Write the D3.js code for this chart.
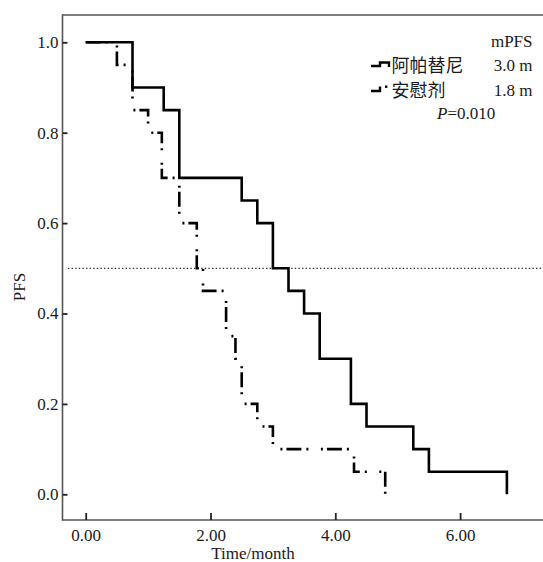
<!DOCTYPE html>
<html><head><meta charset="utf-8">
<script src="https://cdn.jsdelivr.net/npm/d3@7"></script>
<style>
html,body{margin:0;padding:0;background:#fff;}
svg{display:block;}
</style></head>
<body>
<svg id="chart" width="543" height="562"></svg>
<script>
// ---- data ----
const timesApatinib = [0, 0.75, 1.25, 1.5, 2.5, 2.75, 3.0, 3.25, 3.5, 3.75, 4.25, 4.5, 5.25, 5.5, 6.75];
const pfsApatinib   = [1.0, 0.9, 0.85, 0.7, 0.65, 0.6, 0.5, 0.45, 0.4, 0.3, 0.2, 0.15, 0.1, 0.05, 0.0];
const timesPlacebo  = [0, 0.5, 0.75, 1.0, 1.22, 1.5, 1.78, 1.88, 2.25, 2.4, 2.5, 2.75, 3.0, 4.3, 4.8];
const pfsPlacebo    = [1.0, 0.95, 0.85, 0.8, 0.7, 0.6, 0.5, 0.45, 0.35, 0.3, 0.2, 0.15, 0.1, 0.05, 0.0];
const xTicks = [0, 2, 4, 6];
const yTicks = [0, 0.2, 0.4, 0.6, 0.8, 1.0];
const seriesNames = ["阿帕替尼", "安慰剂"];
const medianLabels = ["3.0 m", "1.8 m"];
const pValueText = "=0.010";
const refLevel = 0.5;

// ---- layout ----
const L = 62.5, T = 15, R = 543, B = 520;
const serif = "'Liberation Serif','DejaVu Serif',serif";
const cjk = "'Noto Sans CJK SC','Noto Sans',sans-serif";

const svg = d3.select("#chart");
const x = d3.scaleLinear().domain([0, 6]).range([85.7, 460.1]);
const y = d3.scaleLinear().domain([0, 1]).range([494.3, 42.3]);

// frame
const frame = svg.append("g").attr("stroke", "#555").attr("stroke-width", 1.6).attr("fill", "none");
frame.append("line").attr("x1", L).attr("x2", L).attr("y1", T - 0.8).attr("y2", B + 0.8);
frame.append("line").attr("x1", L).attr("x2", R).attr("y1", T).attr("y2", T);
frame.append("line").attr("x1", L).attr("x2", R).attr("y1", B).attr("y2", B);

// axes
const xAxis = svg.append("g").attr("transform", `translate(0,${B})`)
  .call(d3.axisBottom(x).tickValues(xTicks).tickFormat(d3.format(".2f")).tickSizeInner(-7).tickSizeOuter(0).tickPadding(9));
const yAxis = svg.append("g").attr("transform", `translate(${L},0)`)
  .call(d3.axisLeft(y).tickValues(yTicks).tickFormat(d3.format(".1f")).tickSizeInner(-5).tickSizeOuter(0).tickPadding(4));
[xAxis, yAxis].forEach(a => {
  a.select(".domain").remove();
  a.selectAll(".tick line").attr("stroke", "#222").attr("stroke-width", 1.8);
  a.selectAll(".tick text").attr("fill", "#1a1a1a").style("font-family", serif).style("font-size", "17px");
});
yAxis.selectAll(".tick text").attr("x", -4);

// axis titles
svg.append("text").attr("x", 253).attr("y", 559).attr("text-anchor", "middle")
  .style("font-family", serif).style("font-size", "17px").attr("fill", "#1a1a1a").text("Time/month");
svg.append("text").attr("transform", "translate(25,287) rotate(-90)").attr("text-anchor", "middle")
  .style("font-family", serif).style("font-size", "17px").attr("fill", "#1a1a1a").text("PFS");

// reference line at 0.5
svg.append("line").attr("x1", 68).attr("x2", R).attr("y1", y(refLevel)).attr("y2", y(refLevel))
  .attr("stroke", "#333").attr("stroke-width", 1.2).attr("stroke-dasharray", "1.4,2.2");

// curves
const line = d3.line().x(d => x(d[0])).y(d => y(d[1])).curve(d3.curveStepAfter);
const dataA = timesApatinib.map((t, i) => [t, pfsApatinib[i]]);
const dataB = timesPlacebo.map((t, i) => [t, pfsPlacebo[i]]);
svg.append("path").datum(dataB).attr("d", line).attr("fill", "none")
  .attr("stroke", "#000").attr("stroke-width", 2.6).attr("stroke-dasharray", "15,5,2,12.5,2,4");
svg.append("path").datum(dataA).attr("d", line).attr("fill", "none")
  .attr("stroke", "#000").attr("stroke-width", 2.6);

// legend
const lg = svg.append("g");
lg.append("text").attr("x", 532.5).attr("y", 47).attr("text-anchor", "end")
  .style("font-family", serif).style("font-size", "17px").attr("fill", "#1a1a1a").text("mPFS");
lg.append("path").attr("d", "M371,66H380V62.5H389V67").attr("fill", "none").attr("stroke", "#000").attr("stroke-width", 2.4);
lg.append("path").attr("d", "M371,91H380V86.5").attr("fill", "none").attr("stroke", "#000").attr("stroke-width", 2.4);
lg.append("rect").attr("x", 385).attr("y", 85.5).attr("width", 2.4).attr("height", 2.4).attr("fill", "#000");
const rowsY = [71.5, 96.5];
seriesNames.forEach((n, i) => {
  lg.append("text").attr("x", 391.5).attr("y", rowsY[i]).style("font-family", cjk).style("font-size", "18px")
    .attr("fill", "#1a1a1a").text(n);
  lg.append("text").attr("x", 532.5).attr("y", rowsY[i] - 1).attr("text-anchor", "end")
    .style("font-family", serif).style("font-size", "17px").attr("fill", "#1a1a1a").text(medianLabels[i]);
});
const pt = lg.append("text").attr("x", 437).attr("y", 118.5).style("font-family", serif).style("font-size", "17px").attr("fill", "#1a1a1a");
pt.append("tspan").style("font-style", "italic").text("P");
pt.append("tspan").text(pValueText);
</script>
</body></html>
